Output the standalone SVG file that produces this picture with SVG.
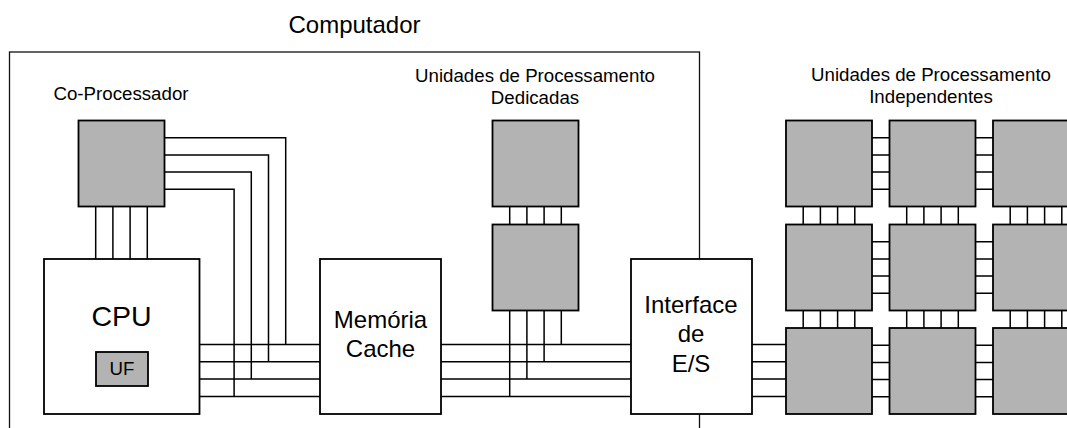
<svg xmlns="http://www.w3.org/2000/svg" width="1067" height="428" viewBox="0 0 1067 428">
<style>
text{font-family:"Liberation Sans",Arial,sans-serif;fill:#000;text-anchor:middle}
.box{fill:#fff;stroke:#000;stroke-width:1.8}
.unit{fill:#b3b3b3;stroke:#000;stroke-width:1.8}
.w{fill:none;stroke:#000;stroke-width:1.5}
.lbl{font-size:18.7px}
.big{font-size:24px}
</style>
<rect width="1067" height="428" fill="#fff"/>
<g id="computador">
<rect x="9.5" y="52" width="690" height="420" fill="none" stroke="#111" stroke-width="1.3"/>
<text class="big" x="354.5" y="32.5">Computador</text>
</g>
<g id="connectors" class="w">
<polyline points="164.5,137.7 285.7,137.7 285.7,344.5"/>
<polyline points="164.5,154.9 268.5,154.9 268.5,361.8"/>
<polyline points="164.5,172.1 251.3,172.1 251.3,379.1"/>
<polyline points="164.5,189.3 234.1,189.3 234.1,396.4"/>
<path d="M95.7,206.5V259M112.9,206.5V259M130.1,206.5V259M147.3,206.5V259"/>
<path d="M199.5,344.5H320M199.5,361.8H320M199.5,379.1H320M199.5,396.4H320"/>
<path d="M441,344.5H631M441,361.8H631M441,379.1H631M441,396.4H631"/>
<path d="M509.7,206.5V224.5M526.9,206.5V224.5M544.1,206.5V224.5M561.3,206.5V224.5"/>
<path d="M561.3,310.5V344.5M544.1,310.5V361.8M526.9,310.5V379.1M509.7,310.5V396.4"/>
<path d="M752,344.5H786M752,361.8H786M752,379.1H786M752,396.4H786"/>
<path d="M872,137.7H889.5M872,154.9H889.5M872,172.1H889.5M872,189.3H889.5M975.5,137.7H993M975.5,154.9H993M975.5,172.1H993M975.5,189.3H993"/>
<path d="M872,241.7H889.5M872,258.9H889.5M872,276.1H889.5M872,293.3H889.5M975.5,241.7H993M975.5,258.9H993M975.5,276.1H993M975.5,293.3H993"/>
<path d="M872,345.2H889.5M872,362.4H889.5M872,379.6H889.5M872,396.8H889.5M975.5,345.2H993M975.5,362.4H993M975.5,379.6H993M975.5,396.8H993"/>
<path d="M803.2,206.5V224.5M820.4,206.5V224.5M837.6,206.5V224.5M854.8,206.5V224.5M906.7,206.5V224.5M923.9,206.5V224.5M941.1,206.5V224.5M958.3,206.5V224.5M1010.2,206.5V224.5M1027.4,206.5V224.5M1044.6,206.5V224.5M1061.8,206.5V224.5"/>
<path d="M803.2,310.5V328M820.4,310.5V328M837.6,310.5V328M854.8,310.5V328M906.7,310.5V328M923.9,310.5V328M941.1,310.5V328M958.3,310.5V328M1010.2,310.5V328M1027.4,310.5V328M1044.6,310.5V328M1061.8,310.5V328"/>
</g>
<g id="coprocessador">
<rect class="unit" x="78.5" y="120.5" width="86" height="86"/>
<text class="lbl" x="121" y="100">Co-Processador</text>
</g>
<g id="cpu">
<rect class="box" x="44" y="259" width="155.5" height="155"/>
<text x="121.5" y="326" font-size="28.5px">CPU</text>
</g>
<g id="uf">
<rect class="unit" x="96" y="352" width="52" height="34"/>
<text class="lbl" x="122" y="375">UF</text>
</g>
<g id="memoria">
<rect class="box" x="320" y="259" width="121" height="155"/>
<text class="big" x="380.5" y="328.3">Memória</text>
<text class="big" x="380.5" y="357.3">Cache</text>
</g>
<g id="dedicadas">
<text class="lbl" x="535" y="81.5">Unidades de Processamento</text>
<text class="lbl" x="535" y="103.5">Dedicadas</text>
</g>
<g id="dedicada1"><rect class="unit" x="492.5" y="120.5" width="86" height="86"/></g>
<g id="dedicada2"><rect class="unit" x="492.5" y="224.5" width="86" height="86"/></g>
<g id="interface">
<rect class="box" x="631" y="259" width="121" height="155"/>
<text class="big" x="691" y="313.3">Interface</text>
<text class="big" x="691" y="342.3">de</text>
<text class="big" x="691" y="371.7">E/S</text>
</g>
<g id="independentes">
<text class="lbl" x="931" y="81">Unidades de Processamento</text>
<text class="lbl" x="931" y="103">Independentes</text>
</g>
<g id="ind11"><rect class="unit" x="786" y="120.5" width="86" height="86"/></g>
<g id="ind12"><rect class="unit" x="889.5" y="120.5" width="86" height="86"/></g>
<g id="ind13"><rect class="unit" x="993" y="120.5" width="86" height="86"/></g>
<g id="ind21"><rect class="unit" x="786" y="224.5" width="86" height="86"/></g>
<g id="ind22"><rect class="unit" x="889.5" y="224.5" width="86" height="86"/></g>
<g id="ind23"><rect class="unit" x="993" y="224.5" width="86" height="86"/></g>
<g id="ind31"><rect class="unit" x="786" y="328" width="86" height="86"/></g>
<g id="ind32"><rect class="unit" x="889.5" y="328" width="86" height="86"/></g>
<g id="ind33"><rect class="unit" x="993" y="328" width="86" height="86"/></g>
</svg>
